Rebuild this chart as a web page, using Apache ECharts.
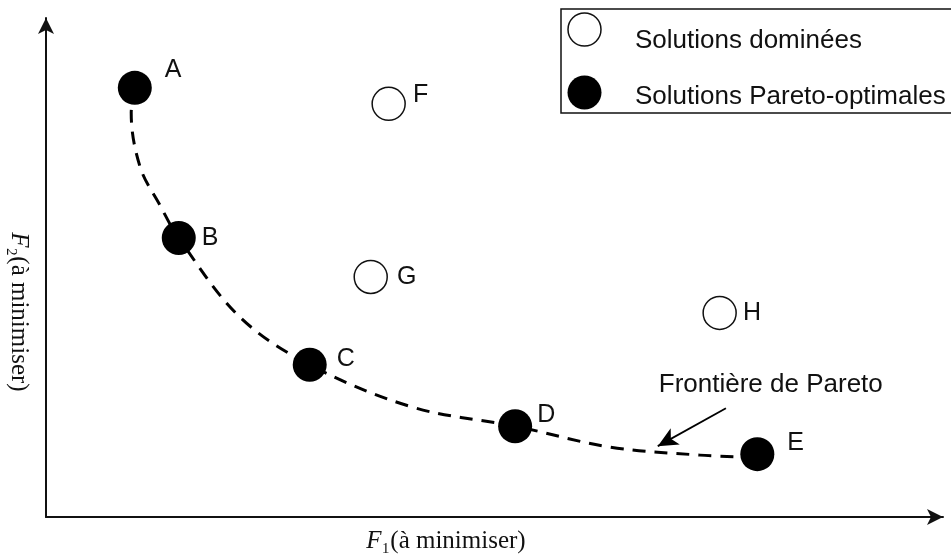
<!DOCTYPE html>
<html><head><meta charset="utf-8">
<script src="https://cdn.jsdelivr.net/npm/echarts@6/dist/echarts.min.js"></script>
<style>html,body{margin:0;padding:0;background:#fff}#c{width:951px;height:556px}</style>
</head><body><div id="c"></div>
<script>
// ---- data ----
const seriesNames = ['Solutions dominées', 'Solutions Pareto-optimales'];
const paretoNames = ['A', 'B', 'C', 'D', 'E'];
const paretoX = [9.9, 14.8, 29.4, 52.3, 79.3];
const paretoY = [86.0, 55.9, 30.5, 18.2, 12.6];
const dominatedNames = ['F', 'G', 'H'];
const dominatedX = [38.2, 36.2, 75.1];
const dominatedY = [82.8, 48.1, 40.9];
// hand-drawn dashed Pareto frontier
const frontierX = [9.9, 9.5, 10.5, 12.7, 14.8, 21.6, 29.4, 40.9, 52.3, 62.9, 72.9, 77.9];
const frontierY = [86.0, 81.0, 70.1, 62.5, 55.9, 40.1, 30.5, 22.0, 18.2, 14.0, 12.4, 12.0];
const annotationText = 'Frontière de Pareto';
const annotationAt = [80.8, 26.4];
const arrowFrom = [75.8, 21.8];
const arrowTo = [68.2, 14.2];
const xAxisTitle = '{i|F}₁(à minimiser)';
const yAxisTitle = '{i|F}₂(à minimiser)';

// ---- styling (label offsets per point) ----
const paretoLabelOffset = [[13, -18], [6, 0], [10, -6], [5, -11], [13, -11]];
const dominatedLabelOffset = [[7, -9], [9, 0], [6, 0]];
const SANS = 'Liberation Sans';
const SERIF = 'Liberation Serif';

const chart = echarts.init(document.getElementById('c'), null, {renderer: 'canvas'});

const paretoData = paretoNames.map((n, i) => ({
  name: n, value: [paretoX[i], paretoY[i]],
  label: {offset: paretoLabelOffset[i]}
}));
const dominatedData = dominatedNames.map((n, i) => ({
  name: n, value: [dominatedX[i], dominatedY[i]],
  label: {offset: dominatedLabelOffset[i]}
}));
const frontierData = frontierX.map((x, i) => [x, frontierY[i]]);

const axisCommon = {
  type: 'value', min: 0, max: 100,
  axisLine: {show: true, onZero: false, symbol: ['none', 'arrow'], symbolSize: [12, 16],
    lineStyle: {color: '#111', width: 2}},
  axisTick: {show: false}, axisLabel: {show: false}, splitLine: {show: false}
};

const labelCommon = {
  show: true, position: 'right', distance: 0, formatter: '{b}',
  color: '#111', fontFamily: SANS, fontSize: 25
};

chart.setOption({
  animation: false,
  backgroundColor: '#fff',
  grid: {left: 46, right: 8, top: 18, bottom: 39, containLabel: false},
  xAxis: axisCommon,
  yAxis: axisCommon,
  series: [
    {
      type: 'line', name: 'frontier', data: frontierData, smooth: 0.35,
      symbol: 'none', z: 1, silent: true,
      lineStyle: {color: '#000', width: 3, type: [13, 9]},
      markLine: {
        silent: true, symbol: ['none', 'arrow'], symbolSize: [14, 20],
        lineStyle: {color: '#000', width: 1.8, type: 'solid'},
        label: {show: false},
        data: [[{coord: arrowFrom}, {coord: arrowTo}]]
      },
      markPoint: {
        silent: true, symbol: 'circle', symbolSize: 0,
        label: {show: true, position: 'inside', formatter: annotationText,
          color: '#111', fontFamily: SANS, fontSize: 26},
        data: [{coord: annotationAt}]
      }
    },
    {
      type: 'scatter', name: seriesNames[0], data: dominatedData, symbolSize: 33, z: 3,
      itemStyle: {color: '#fff', borderColor: '#111', borderWidth: 1.5, opacity: 1},
      label: labelCommon
    },
    {
      type: 'scatter', name: seriesNames[1], data: paretoData, symbolSize: 34, z: 3,
      itemStyle: {color: '#000', opacity: 1},
      label: labelCommon
    }
  ],
  graphic: [
    // legend box (extends past the right edge, as in the reference)
    {type: 'rect', z: 10, shape: {x: 561, y: 9, width: 420, height: 104},
      style: {fill: '#fff', stroke: '#111', lineWidth: 1.5}},
    {type: 'circle', z: 11, shape: {cx: 584.5, cy: 29.5, r: 16.5},
      style: {fill: '#fff', stroke: '#111', lineWidth: 1.5}},
    {type: 'circle', z: 11, shape: {cx: 584.5, cy: 92.5, r: 17},
      style: {fill: '#000'}},
    {type: 'text', z: 11, x: 635, y: 41, style: {text: seriesNames[0], verticalAlign: 'middle',
      fontFamily: SANS, fontSize: 26, fill: '#111'}},
    {type: 'text', z: 11, x: 635, y: 97, style: {text: seriesNames[1], verticalAlign: 'middle',
      fontFamily: SANS, fontSize: 26, fill: '#111'}},
    // axis titles
    {type: 'text', x: 446, y: 541, style: {text: xAxisTitle, align: 'center', verticalAlign: 'middle',
      fontFamily: SERIF, fontSize: 25, fill: '#111', rich: {i: {fontStyle: 'italic', fontFamily: SERIF, fontSize: 25}}}},
    {type: 'text', x: 19, y: 312, rotation: -Math.PI / 2, style: {text: yAxisTitle, align: 'center', verticalAlign: 'middle',
      fontFamily: SERIF, fontSize: 25, fill: '#111', rich: {i: {fontStyle: 'italic', fontFamily: SERIF, fontSize: 25}}}}
  ]
});
</script>
</body></html>
